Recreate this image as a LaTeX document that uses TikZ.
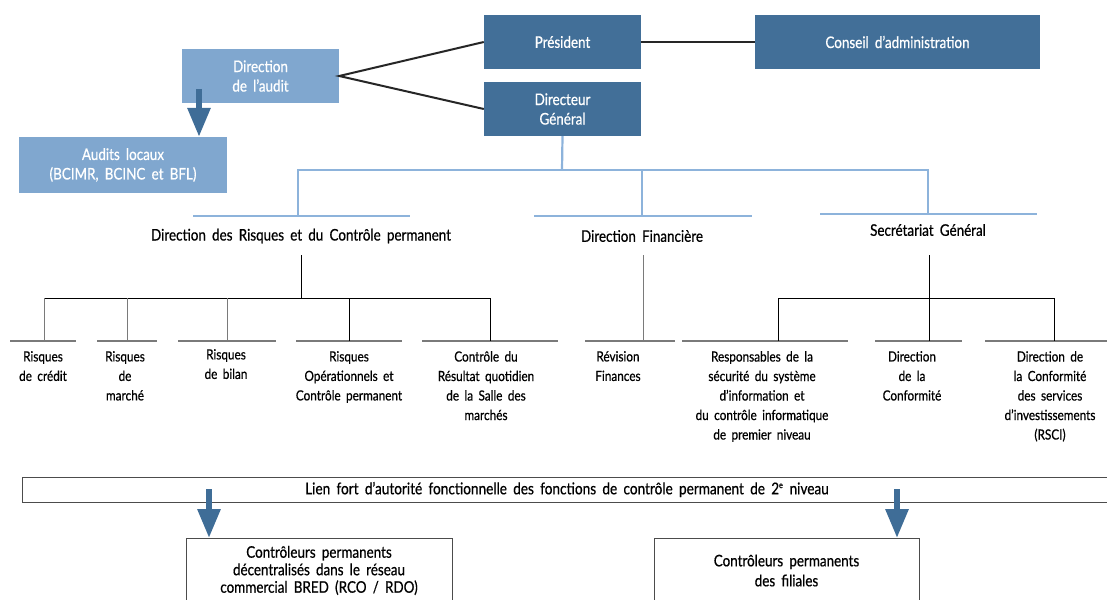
\documentclass[tikz,border=0pt]{standalone}
\usepackage{fontspec}
\setmainfont{Lato}[FakeStretch=0.84, WordSpace=1.8, FakeBold=0.6]
\usetikzlibrary{arrows.meta}
\definecolor{darkbox}{HTML}{426F98}
\definecolor{lightbox}{HTML}{80A7CF}
\definecolor{treeblue}{HTML}{8DB3DB}
\definecolor{arrowblue}{HTML}{3F6D97}
\definecolor{rule}{HTML}{7A7A7A}
\tikzset{
  dbox/.style={fill=darkbox, text=white, align=center, inner sep=0pt,
    minimum width=157pt, minimum height=54pt, font=\fontsize{16}{19.5}\selectfont},
  lbox/.style={fill=lightbox, text=white, align=center, inner sep=0pt,
    minimum height=54pt, font=\fontsize{16}{19.5}\selectfont},
  head/.style={align=center, inner sep=0pt, font=\fontsize{16}{19}\selectfont},
  item/.style={align=center, inner sep=0pt, anchor=north, font=\fontsize{14}{19.5}\selectfont},
  boss/.style={line width=2pt, draw=black!85},
  tree/.style={line width=2.2pt, draw=treeblue},
  bar/.style={line width=1.3pt, draw=rule},
  twig/.style={line width=1pt, draw=black},
  gtwig/.style={line width=1pt, draw=rule},
  fat/.style={line width=6pt, draw=arrowblue, -{Triangle[width=22pt,length=29pt]}},
  outbox/.style={draw=black!70, line width=1pt, align=center, inner sep=0pt},
}
\begin{document}
\begin{tikzpicture}[x=1pt, y=-1pt]
\useasboundingbox (0,0) rectangle (1107,599);

% top management
\node[dbox] (pres) at (562.5,42) {Président};
\node[dbox, minimum width=285pt] (ca) at (897.5,42) {Conseil d’administration};
\node[dbox] (dg) at (562.5,109) {Directeur\\Général};
\node[lbox, minimum width=157pt] (audit) at (260.5,76) {Direction\\de l’audit};
\node[lbox, minimum width=208pt, minimum height=56pt] (locaux) at (123,165) {Audits locaux\\(BCIMR, BCINC et BFL)};

\draw[boss] (pres) -- (ca);
\draw[boss] (pres.west) -- (audit.east) -- (dg.west);
\coordinate (auditarr) at (199,89);
\draw[fat] (auditarr) -- (auditarr |- locaux.north);

% second level tree
\coordinate (hbar) at (562,170);
\coordinate (hL) at (298,170);
\coordinate (hM) at (642,170);
\coordinate (hR) at (928,170);
\draw[tree] (dg.south) -- (hbar);
\draw[tree] (hL |- 0,216) -- (hL) -- (hR) -- (hR |- 0,214);
\draw[tree] (hM) -- (hM |- 0,216);
\draw[tree] (193,216) -- (410,216);
\draw[tree] (534,216) -- (752,216);
\draw[tree] (820,214) -- (1037,214);

\node[head] (drcp) at (301,236) {Direction des Risques et du Contrôle permanent};
\node[head] (dfin) at (642,236) {Direction Financière};
\node[head] (sg) at (928,230) {Secrétariat Général};

% third level rules
\draw[bar] (10,341) -- (76,341);
\draw[bar] (97,341) -- (157,341);
\draw[bar] (178,341) -- (276,341);
\draw[bar] (296,341) -- (402,341);
\draw[bar] (422,341) -- (558,341);
\draw[bar] (585,341) -- (675,341);
\draw[bar] (682,341) -- (848,341);
\draw[bar] (875,341) -- (962,341);
\draw[bar] (985,341) -- (1107,341);

% risks branch
\coordinate (rTop) at (301,255);
\coordinate (rMid) at (301,298);
\draw[twig] (rTop) -- (rMid);
\draw[twig] (44,298) -- (490,298);
\draw[gtwig] (44,298) -- (44,341);
\draw[gtwig] (127,298) -- (127,341);
\draw[gtwig] (227,298) -- (227,341);
\draw[twig] (349,298) -- (349,341);
\draw[twig] (490,298) -- (490,341);

% finance branch
\draw[gtwig] (643,255) -- (643,341);

% general secretariat branch
\draw[twig] (929,255) -- (929,341);
\draw[twig] (778,298) -- (1054,298);
\draw[twig] (778,298) -- (778,341);
\draw[twig] (1054,298) -- (1054,341);

% third level labels
\node[item] (r1) at (43,351) {Risques\\de crédit};
\node[item] (r2) at (125,351) {Risques\\de\\marché};
\node[item] (r3) at (226,349) {Risques\\de bilan};
\node[item] (r4) at (349,351) {Risques\\Opérationnels et\\Contrôle permanent};
\node[item] (r5) at (486,351) {Contrôle du\\Résultat quotidien\\de la Salle des\\marchés};
\node[item] (f1) at (618,351) {Révision\\Finances};
\node[item] (s1) at (762,351) {Responsables de la\\sécurité du système\\d’information et\\du contrôle informatique\\de premier niveau};
\node[item] (s2) at (912,351) {Direction\\de la\\Conformité};
\node[item] (s3) at (1050,351) {Direction de\\la Conformité\\des services\\d’investissements\\(RSCI)};

% functional authority band
\node[outbox, minimum width=1090pt, minimum height=25pt, font=\fontsize{16.2}{17}\selectfont] (lien) at (567,489.5)
  {Lien fort d’autorité fonctionnelle des fonctions de contrôle permanent de 2\textsuperscript{\fontsize{8.5}{8.5}\selectfont e} niveau};

% permanent controllers
\node[outbox, minimum width=266pt, minimum height=64pt, anchor=north, font=\fontsize{16}{17.5}\selectfont] (ctrlL) at (319,538)
  {Contrôleurs permanents\\décentralisés dans le réseau\\commercial BRED (RCO / RDO)};
\node[outbox, minimum width=265pt, minimum height=64pt, anchor=north, font=\fontsize{16}{20}\selectfont] (ctrlR) at (786.5,538)
  {Contrôleurs permanents\\des filiales};

\coordinate (arrL) at (209,489);
\coordinate (arrR) at (897,489);
\draw[fat] (arrL) -- (arrL |- ctrlL.north);
\draw[fat] (arrR) -- (arrR |- ctrlR.north);
\end{tikzpicture}
\end{document}
